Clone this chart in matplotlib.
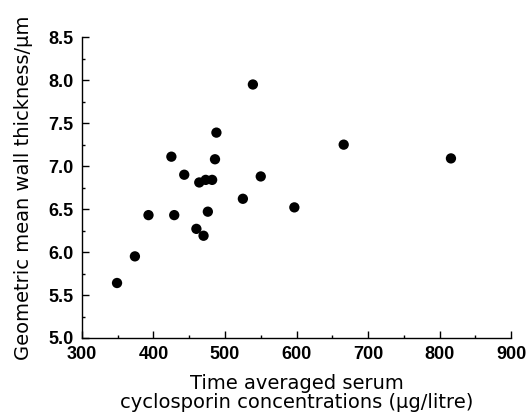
import numpy as np
import matplotlib.pyplot as plt
from matplotlib.ticker import MultipleLocator

# time averaged serum cyclosporin (ug/litre) vs geometric mean wall thickness (um)
conc = [349, 374, 393, 429, 425, 443, 460, 470, 476, 464, 473, 482,
        486, 488, 539, 525, 550, 597, 666, 816]
thickness = [5.64, 5.95, 6.43, 6.43, 7.11, 6.90, 6.27, 6.19, 6.47, 6.81, 6.84, 6.84,
             7.08, 7.39, 7.95, 6.62, 6.88, 6.52, 7.25, 7.09]

xticks = [300, 400, 500, 600, 700, 800, 900]
yticks = [5.0, 5.5, 6.0, 6.5, 7.0, 7.5, 8.0, 8.5]

plt.rcParams['font.family'] = ['Liberation Sans', 'DejaVu Sans']

fig = plt.figure(figsize=(5.29, 4.16), dpi=100)
ax = fig.add_axes([0.155, 0.1875, 0.811, 0.723])

ax.scatter(conc, thickness, s=55, color='black', edgecolors='none', zorder=3)

ax.set_xlim(300, 900)
ax.set_ylim(5.0, 8.5)
ax.set_xticks(xticks)
ax.set_yticks(yticks)
ax.set_xticklabels([str(t) for t in xticks], fontweight='bold')
ax.set_yticklabels([f'{t:.1f}' for t in yticks], fontweight='bold')
ax.xaxis.set_minor_locator(MultipleLocator(50))
ax.yaxis.set_minor_locator(MultipleLocator(0.25))

ax.spines['top'].set_visible(False)
ax.spines['right'].set_visible(False)
for sp in ('left', 'bottom'):
    ax.spines[sp].set_linewidth(1.0)

ax.tick_params(which='major', direction='in', length=5, width=1.0,
               labelsize=13)
ax.tick_params(which='minor', direction='in', length=2.5, width=1.0)
ax.tick_params(axis='x', which='major', pad=6)
ax.tick_params(axis='y', which='major', pad=6)

lab_font = dict(family='DejaVu Sans', fontsize=14)
ax.set_xlabel('Time averaged serum\ncyclosporin concentrations (\u00b5g/litre)',
              linespacing=1.0, labelpad=8, **lab_font)
ax.set_ylabel('Geometric mean wall thickness/\u00b5m', labelpad=11, **lab_font)

fig.savefig('out.png', dpi=100)
